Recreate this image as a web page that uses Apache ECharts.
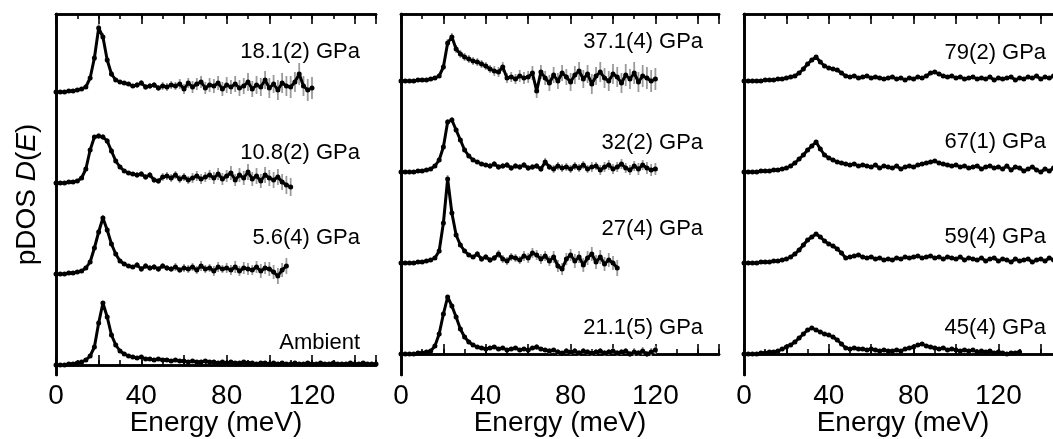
<!DOCTYPE html>
<html><head><meta charset="utf-8">
<script src="https://cdn.jsdelivr.net/npm/echarts@6/dist/echarts.min.js"></script>
<style>html,body{margin:0;padding:0;background:#fff}#c{width:1053px;height:439px}</style>
</head><body><div id="c"></div>
<script>
// ---------- DATA ----------
// Energy grid (meV)
const energy = [0,2,4,6,8,10,12,14,16,18,20,22,24,26,28,30,32,34,36,38,40,42,44,46,48,50,52,54,56,58,60,62,64,66,68,70,72,74,76,78,80,82,84,86,88,90,92,94,96,98,100,102,104,106,108,110,112,114,116,118,120,122,124,126,128,130,132,134,136,138,140,142,144,146,148,150];
const xTickLabels = [0, 40, 80, 120];

// Panel 1
const namesP1 = ['Ambient', '5.6(4) GPa', '10.8(2) GPa', '18.1(2) GPa'];
const pdosAmbient = [0,0,0,1,1,2,3,5,9,18, 42,62,48,30,20,14,11,9,8,7, 8,6,6,5,6,5,5,4,5,4, 4,3,4,3,3,4,3,3,2,3, 2,3,2,2,3,2,2,1,2,2, 1,2,1,2,1,1,2,1,1,2, 1,1,2,1,1,2,1,1,1,2, 1,1,2,1,1,1];
const errAmbient  = [0,0,0,0,0,0,0,1,1,1, 2,2,2,1,1,1,1,1,1,1, 1,1,1,1,1,1,1,1,1,1, 1,1,1,1,1,2,1,1,2,1, 1,2,1,1,2,1,1,2,1,1, 2,1,2,1,1,2,1,2,1,2, 1,2,1,2,2,1,2,1,2,2, 1,2,2,1,2,2];
const pdos5p6 = [0,0,0,1,1,2,3,6,12,26, 42,56,44,30,20,13,10,8,7,9, 5,8,6,7,5,8,6,5,7,4, 6,5,7,4,8,5,6,3,7,5, 6,4,7,3,6,5,4,7,3,6, 5,2,-2,4,8];
const err5p6  = [0,0,0,0,0,0,1,1,2,2, 3,3,3,2,2,2,2,2,2,3, 3,3,3,3,3,3,3,3,4,3, 4,4,4,4,5,4,4,5,5,4, 5,5,6,5,6,6,5,6,7,6, 7,7,8,7,8];
const pdos10p8 = [0,0,0,1,1,2,5,14,33,46, 47,46,42,32,22,16,12,10,9,8, 9,6,8,3,2,6,7,5,8,4, 6,3,5,7,4,6,8,5,9,4, 7,10,3,8,5,11,4,7,2,8, 5,3,6,1,-2,-4];
const err10p8  = [0,0,0,0,0,1,1,1,2,2, 3,3,3,3,2,2,2,2,2,3, 3,3,3,3,3,4,4,4,4,4, 4,4,5,5,5,5,5,6,6,6, 6,7,6,7,7,8,7,8,7,8, 8,8,8,8,9,9];
const pdos18p1 = [0,0,0,1,1,2,3,5,14,34, 64,55,32,18,12,10,9,8,6,7, 9,5,6,7,4,6,5,7,6,8, 3,9,5,8,10,4,7,6,9,3, 7,5,8,4,6,10,3,7,5,12, 4,8,2,9,6,5,10,18,6,2, 4];
const err18p1  = [0,0,0,0,0,1,1,1,2,3, 4,4,3,3,2,2,2,2,2,3, 3,3,3,3,3,4,4,4,4,5, 5,5,6,6,6,6,7,7,7,7, 8,7,8,8,8,9,8,9,9,9, 10,9,10,10,10,11,10,11,10,11, 11];

// Panel 2
const namesP2 = ['21.1(5) GPa', '27(4) GPa', '32(2) GPa', '37.1(4) GPa'];
const pdos21p1 = [0,0,0,0,1,1,2,3,8,20, 40,57,48,37,25,17,12,9,7,6, 5,6,7,5,6,4,5,6,4,5, 4,6,7,5,4,3,4,2,1,3, 2,3,1,3,2,1,2,3,1,2, 3,1,2,3,0,2,1,3,0,2, 4];
const err21p1  = [0,0,0,0,0,0,1,1,1,2, 2,2,2,2,2,2,2,2,2,2, 2,2,2,2,2,2,2,2,2,2, 2,2,3,2,2,3,2,3,2,3, 3,3,3,3,3,3,3,3,3,3, 3,3,3,3,3,4,3,4,3,4, 4];
const pdos27 = [0,0,0,0,1,1,2,3,5,12, 40,84,50,28,18,12,8,6,9,4, 6,3,5,9,4,2,6,5,3,7, 5,10,8,4,7,2,6,-3,-6,4, 8,2,6,-2,5,9,1,6,-1,3, 0,-5];
const err27  = [0,0,0,0,0,0,1,1,1,2, 3,4,3,2,2,2,2,2,3,3, 3,3,3,4,4,4,4,4,4,5, 5,5,5,5,5,5,6,6,6,6, 6,7,6,7,7,7,7,7,7,7, 7,8];
const pdos32 = [0,0,0,0,1,1,2,3,6,12, 25,50,52,42,32,22,16,12,10,8, 7,6,8,5,6,7,4,6,5,7, 4,5,6,3,10,5,3,6,4,5, 3,6,4,7,3,5,6,2,5,7, 3,5,8,4,2,6,3,7,4,2, 3];
const err32  = [0,0,0,0,0,0,1,1,1,2, 2,3,3,2,2,2,2,2,2,2, 2,3,3,3,3,3,3,3,3,3, 3,3,3,3,4,3,4,4,4,4, 4,4,4,4,4,5,4,5,5,5, 5,5,5,5,5,5,6,5,6,6, 6];
const pdos37p1 = [0,0,0,0,1,1,1,2,3,5, 14,38,44,32,27,24,22,20,19,17, 15,12,10,9,14,3,4,2,5,3, 4,8,-10,9,3,-2,6,0,8,4, -1,6,10,2,7,-3,5,9,3,0, 7,4,-2,6,2,8,-1,5,3,0, 2];
const err37p1  = [0,0,0,0,0,0,1,1,1,2, 3,4,4,4,4,4,4,4,4,4, 4,4,5,5,5,5,5,5,6,6, 6,7,7,7,7,8,8,8,8,8, 9,9,9,9,9,10,9,10,10,10, 10,10,10,11,10,11,10,11,11,11, 11];

// Panel 3
const namesP3 = ['45(4) GPa', '59(4) GPa', '67(1) GPa', '79(2) GPa'];
const pdos45 = [0,0,0,0,1,1,2,2,3,5, 7,9,12,16,20,24,26,24,22,20, 19,17,14,10,6,5,6,5,5,4, 5,4,3,4,3,3,4,3,5,6, 7,9,10,8,7,6,5,6,4,5, 4,3,4,3,4,2,3,2,3,1, 2,1,0,1,1,2];
const err45  = [0,0,0,0,0,0,0,0,1,1, 1,1,1,1,1,1,1,1,1,1, 1,1,1,1,1,1,1,1,1,1, 1,1,1,1,1,1,1,1,1,1, 1,1,1,1,2,1,1,1,1,2, 1,1,2,1,1,2,1,2,1,2, 2,1,2,2,1,2];
const pdos59 = [0,0,0,0,1,1,1,2,2,3, 4,6,9,13,18,23,26,29,26,22, 19,17,14,10,5,6,7,8,6,5, 6,4,5,3,4,3,5,4,6,5, 6,7,5,6,7,5,6,4,6,5, 4,6,3,5,4,3,5,2,4,5, 2,4,3,1,4,2,3,4,1,3, 4,2,5,3,2,3];
const err59  = [0,0,0,0,0,0,0,0,0,1, 1,1,1,1,1,1,1,1,1,1, 1,1,1,1,1,1,1,1,1,1, 1,1,1,1,1,1,1,1,1,1, 1,1,1,1,1,1,1,1,1,1, 1,1,1,2,1,1,2,1,1,2, 1,2,1,2,1,2,2,1,2,2, 2,1,2,2,2,2];
const pdos67 = [0,0,0,0,1,1,1,2,2,3, 4,6,9,13,17,22,26,30,23,17, 14,12,10,9,8,7,8,6,7,6, 5,7,4,6,5,4,6,3,5,6, 5,7,8,9,10,11,9,8,7,6, 7,5,6,4,5,6,3,5,6,4, 5,3,6,2,5,4,1,3,5,2, 0,3,1,4,2,3];
const err67  = [0,0,0,0,0,0,0,0,1,1, 1,1,1,1,1,1,1,1,1,1, 1,1,1,1,1,1,1,1,1,1, 1,1,1,1,1,1,1,1,1,1, 1,1,1,2,1,1,2,1,1,2, 1,2,1,2,1,2,2,1,2,2, 2,1,2,2,2,2,2,2,2,2, 2,2,2,2,2,2];
const pdos79 = [0,0,0,0,0,1,1,1,2,2, 3,4,5,8,12,17,21,24,19,15, 13,12,11,8,5,4,5,3,4,5, 3,4,3,2,3,4,2,3,1,3, 2,4,3,5,8,9,7,5,4,5, 3,4,2,3,4,2,3,2,4,1, 3,2,3,4,1,3,2,4,3,5, 2,4,3,5,4,3];
const err79  = [0,0,0,0,0,0,0,0,0,1, 1,1,1,1,1,1,1,1,1,1, 1,1,1,1,1,1,1,1,1,1, 1,1,1,1,1,1,1,1,1,1, 1,1,1,1,1,1,1,1,1,1, 1,1,1,2,1,1,2,1,1,2, 1,2,1,2,1,2,2,1,2,2, 2,1,2,2,2,2];

// ---------- LAYOUT ----------
const FONT = 'Liberation Sans, Arial, Helvetica, sans-serif';
const offsets = [0, 91, 182, 273];
const panels = [
  {grid:{left:56, top:14, width:320, height:361}, yRange:[-10, 351], names:namesP1,
   spectra:[[pdosAmbient,errAmbient],[pdos5p6,err5p6],[pdos10p8,err10p8],[pdos18p1,err18p1]],
   labelLift:[22, 36, 30, 40]},
  {grid:{left:401, top:14, width:318, height:361}, yRange:[-21, 340], names:namesP2,
   spectra:[[pdos21p1,err21p1],[pdos27,err27],[pdos32,err32],[pdos37p1,err37p1]],
   labelLift:[26, 34, 29, 39]},
  {grid:{left:744, top:14, width:318, height:361}, yRange:[-21, 340], names:namesP3,
   spectra:[[pdos45,err45],[pdos59,err59],[pdos67,err67],[pdos79,err79]],
   labelLift:[26, 26, 30, 28]}
];
const labelX = 142.5;

const grids = [], xAxes = [], yAxes = [], series = [];
const axisLine = {show:true, lineStyle:{color:'#000', width:2.6}};
panels.forEach((p, g) => {
  grids.push(Object.assign({containLabel:false, outerBoundsMode:'none'}, p.grid));
  const base = {type:'value', gridIndex:g, min:0, max:150, splitLine:{show:false}, axisLine};
  // bottom major (labels), bottom minor, top major, top minor
  xAxes.push(Object.assign({}, base, {position:'bottom', interval:20,
    axisTick:{show:true, inside:true, length:10, lineStyle:{width:1.6, color:'#000'}},
    axisLabel:{show:true, margin:7, fontSize:28, color:'#000', fontFamily:FONT,
      formatter: v => xTickLabels.includes(v) ? String(v) : ''},
    name:'Energy (meV)', nameLocation:'middle', nameGap:34, nameMoveOverlap:false,
    nameTextStyle:{fontSize:28, color:'#000', fontFamily:FONT}}));
  xAxes.push(Object.assign({}, base, {position:'bottom', interval:10,
    axisTick:{show:true, inside:true, length:5, lineStyle:{width:1.6, color:'#000'}},
    axisLabel:{show:false}}));
  xAxes.push(Object.assign({}, base, {position:'top', interval:20,
    axisTick:{show:true, inside:true, length:10, lineStyle:{width:1.6, color:'#000'}},
    axisLabel:{show:false}}));
  xAxes.push(Object.assign({}, base, {position:'top', interval:10,
    axisTick:{show:true, inside:true, length:5, lineStyle:{width:1.6, color:'#000'}},
    axisLabel:{show:false}}));
  const ybase = {type:'value', gridIndex:g, min:p.yRange[0], max:p.yRange[1], splitLine:{show:false},
    axisTick:{show:false}, axisLabel:{show:false}, axisLine};
  const yl = Object.assign({}, ybase, {position:'left'});
  if (g === 0) {
    yl.name = '{a|pDOS }{b|D}{a|(}{b|E}{a|)}';
    yl.nameLocation = 'middle';
    yl.nameGap = 15;
    yl.nameRotate = 90;
    yl.nameMoveOverlap = false;
    yl.nameTextStyle = {color:'#000', fontFamily:FONT,
      rich:{a:{fontSize:28, color:'#000', fontFamily:FONT}, b:{fontSize:28, color:'#000', fontFamily:FONT, fontStyle:'italic'}}};
  }
  yAxes.push(yl);
  yAxes.push(Object.assign({}, ybase, {position:'right'}));

  p.spectra.forEach((s, k) => {
    const vals = s[0], errs = s[1], off = offsets[k];
    const pts = vals.map((v, i) => [energy[i], v + off, errs[i]]);
    series.push({type:'custom', xAxisIndex:g*4, yAxisIndex:g*2, silent:true, z:1,
      data: pts, encode:{x:0, y:1},
      renderItem:(params, api) => {
        const x = api.value(0), y = api.value(1), e = api.value(2);
        if (!e) return null;
        const a = api.coord([x, y - e]), b = api.coord([x, y + e]);
        return {type:'line', shape:{x1:a[0], y1:a[1], x2:b[0], y2:b[1]},
          style:{stroke:'#9a9a9a', lineWidth:1.8}};
      }});
    series.push({type:'line', xAxisIndex:g*4, yAxisIndex:g*2, silent:true, z:3,
      data: pts.map(q => [q[0], q[1]]),
      symbol:'circle', symbolSize:5, showSymbol:true,
      itemStyle:{color:'#000'}, lineStyle:{color:'#000', width:3}});
    series.push({type:'scatter', xAxisIndex:g*4, yAxisIndex:g*2, silent:true, z:4,
      symbolSize:0, itemStyle:{opacity:1}, data:[[labelX, off + p.labelLift[k]]],
      label:{show:true, position:[0,0], align:'right', verticalAlign:'middle', opacity:1,
        formatter: () => p.names[k], fontSize:22, color:'#000', fontFamily:FONT}});
  });
});

const chart = echarts.init(document.getElementById('c'), null, {renderer:'canvas'});
chart.setOption({animation:false, backgroundColor:'#fff', grid:grids, xAxis:xAxes, yAxis:yAxes, series});
</script></body></html>
